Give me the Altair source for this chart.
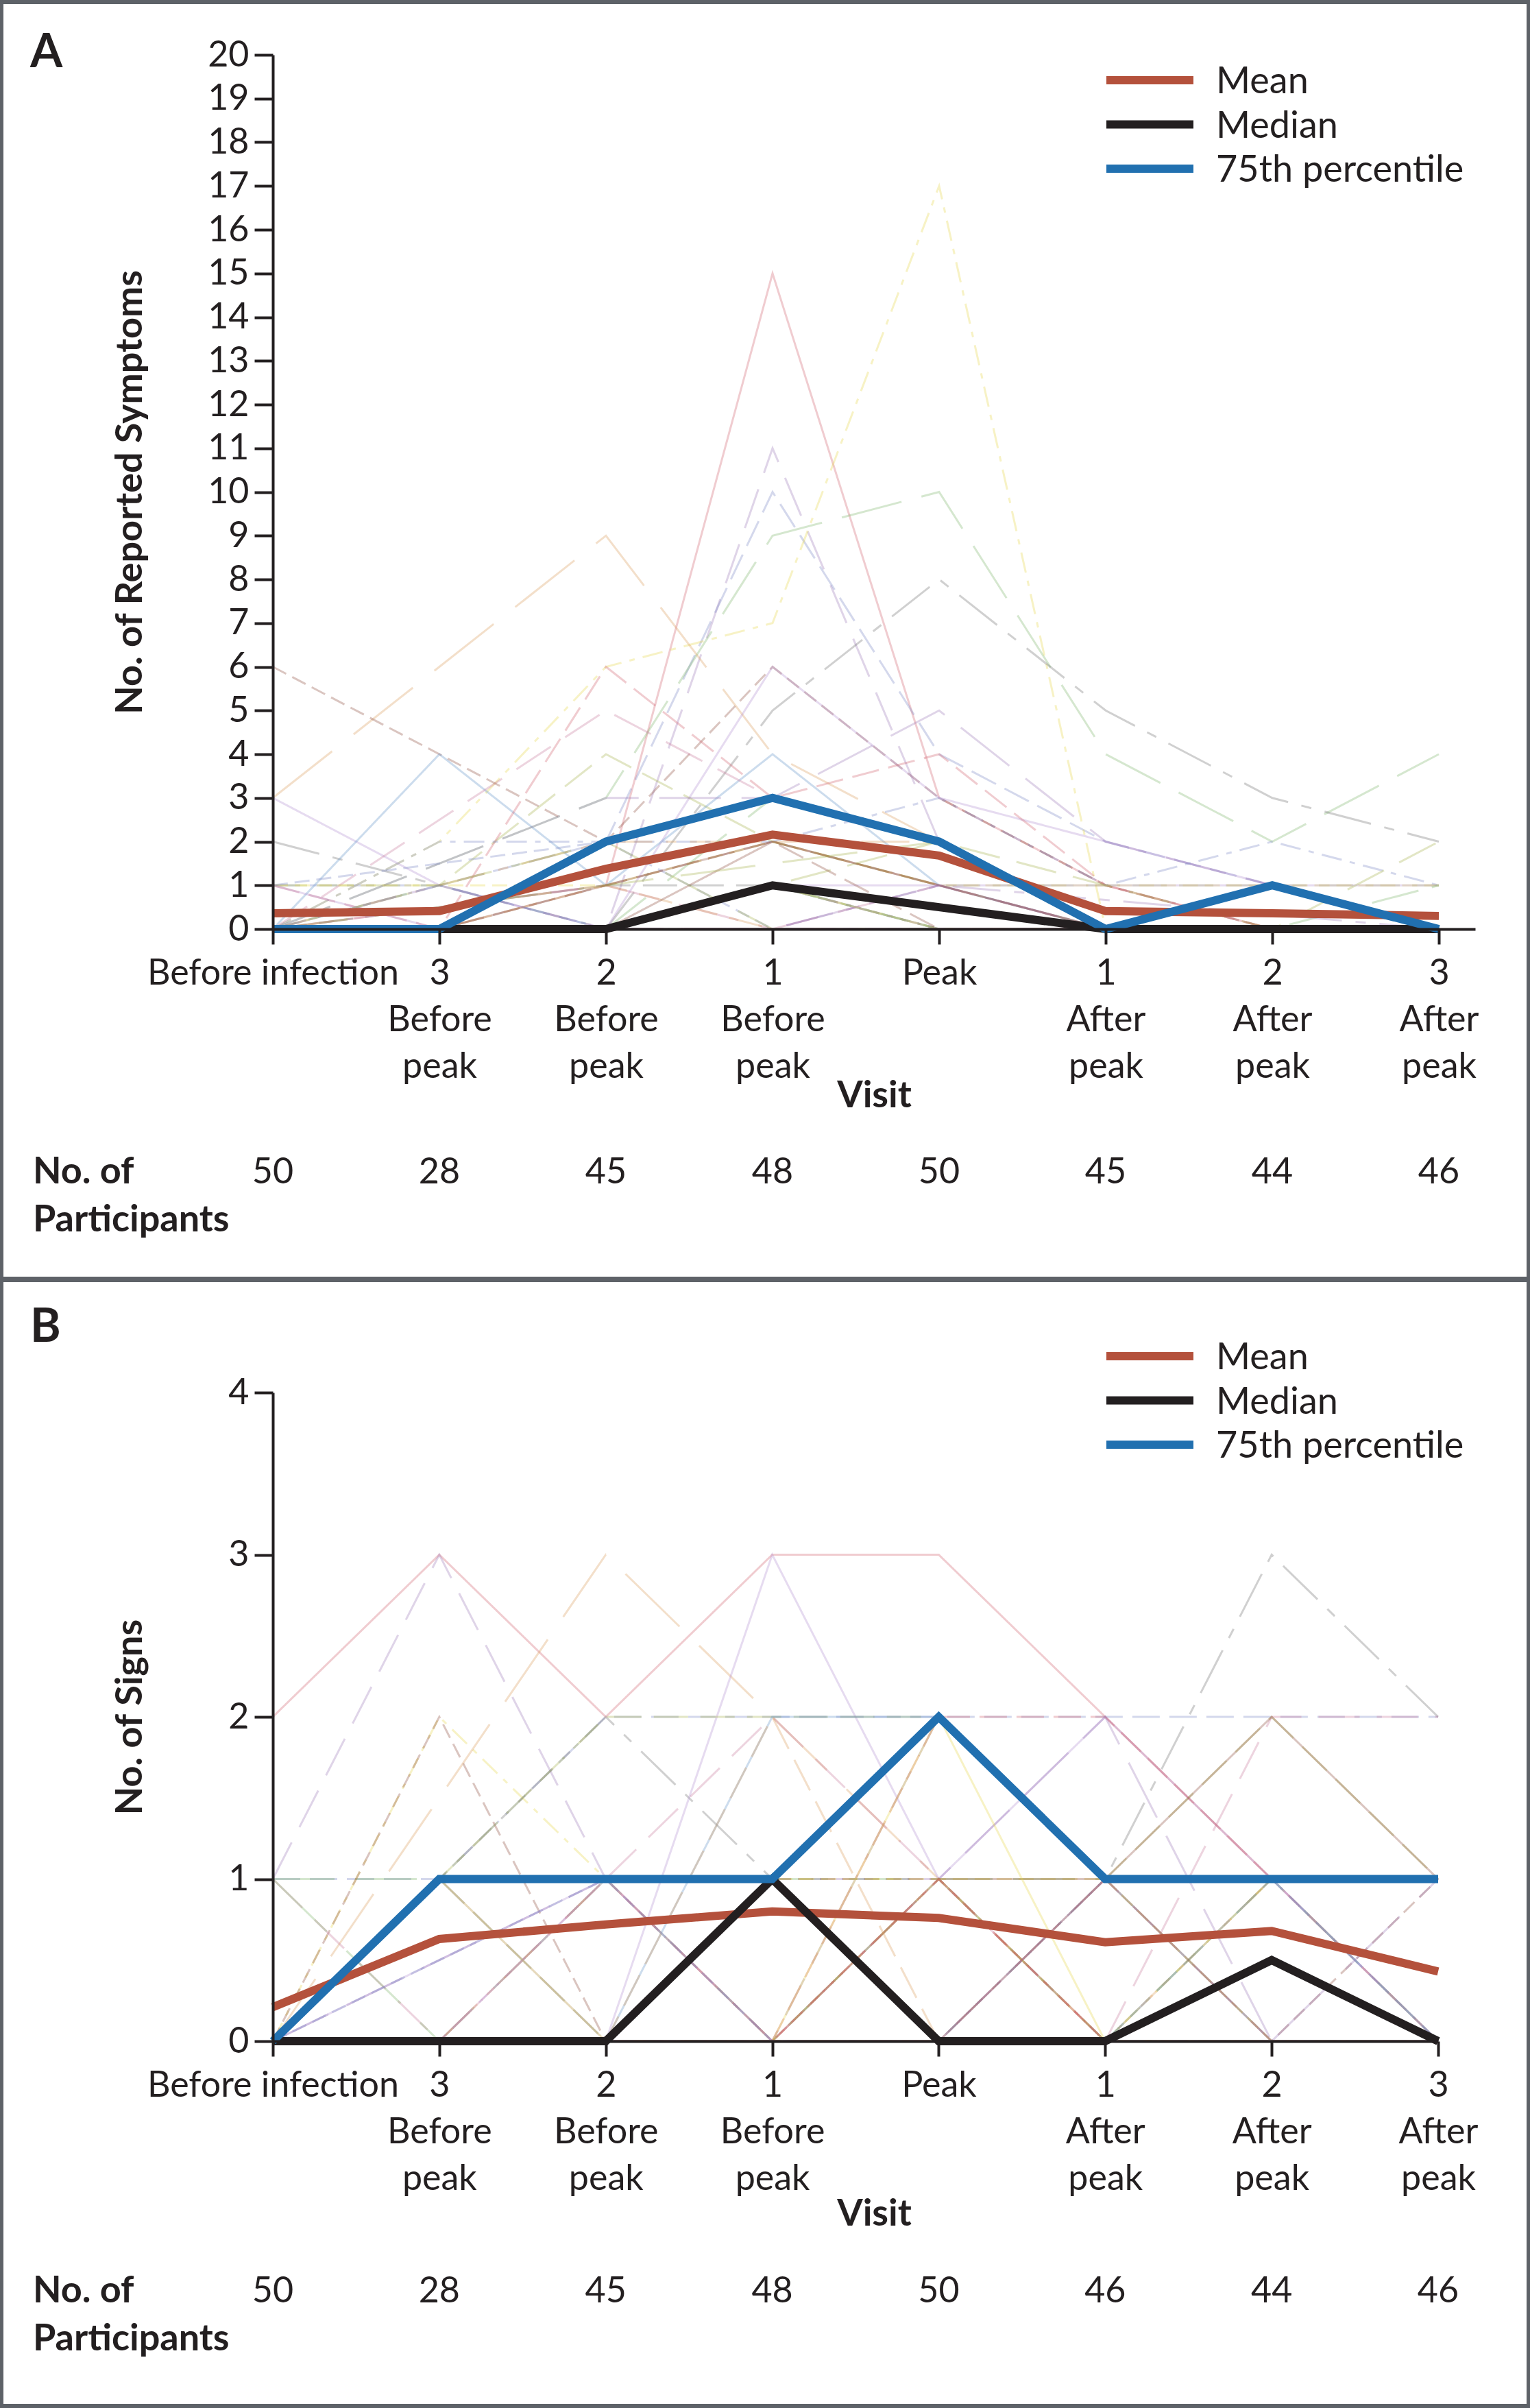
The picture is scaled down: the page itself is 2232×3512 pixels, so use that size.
import json
import altair as alt
import pandas as pd

# ---------------- data ----------------
VISIT_LINES = [["Before infection"], ["3", "Before", "peak"], ["2", "Before", "peak"],
               ["1", "Before", "peak"], ["Peak"], ["1", "After", "peak"],
               ["2", "After", "peak"], ["3", "After", "peak"]]
VISITS = list(range(8))

A_MEAN = [0.36, 0.41, 1.38, 2.16, 1.68, 0.41, 0.36, 0.30]
A_MEDIAN = [0, 0, 0, 1, 0.5, 0, 0, 0]
A_P75 = [0, 0, 2, 3, 2, 0, 1, 0]
A_N = [50, 28, 45, 48, 50, 45, 44, 46]

B_MEAN = [0.21, 0.63, 0.72, 0.80, 0.76, 0.61, 0.68, 0.43]
B_MEDIAN = [0, 0, 0, 1, 0, 0, 0.5, 0]
B_P75 = [0, 1, 1, 1, 2, 1, 1, 1]
B_N = [50, 28, 45, 48, 50, 46, 44, 46]

N = None
A_PARTICIPANTS = [
    [0, N, 1, 15, 3, 1, 0, 0], [0, N, 0, 11, 2, 0, 0, 0], [1, 1, 2, 10, 4, 2, 1, 0],
    [0, N, 3, 9, 10, 4, 2, 4], [0, 2, 6, 7, 17, 0, 0, 0], [3, 6, 9, 4, 2, 0, 0, 0],
    [6, 4, 2, 6, 3, 1, 0, 0], [2, 1, 0, 5, 8, 5, 3, 2], [3, 1, 0, 6, 3, 2, 1, 0],
    [1, 1, 4, 2, 1, 1, 1, 1], [0, 4, 1, 4, 1, 0, 0, 0], [0, N, 5, 3, 2, 0, 0, 0],
    [1, 0, 6, 3, 4, 1, 0, 0], [0, N, 3, 3, 5, 2, 1, 0], [0, 2, 2, 2, 3, 1, 2, 1],
    [0, 0, 0, 3, 2, 0, 0, 0], [1, 1, 1, 2, 1, 1, 1, 1], [0, N, 2, 2, 2, 0, 0, 0],
    [0, 0, 1, 2, 1, 0, 1, 0], [0, N, 1, 1, 0, 0, 0, 0], [1, 0, 0, 1, 1, 1, 1, 1],
    [0, N, 0, 1, 2, 1, 0, 2], [0, 1, 0, 1, 0, 0, 0, 0], [0, N, 1, 0, 1, 0, 1, 0],
    [0, N, 0, 1, 0, 0, 0, 0], [0, 0, 0, 0, 1, 0, 0, 0], [1, N, 2, 0, 0, 0, 0, 0],
    [0, 0, 0, 1, 0, 0, 0, 1], [0, N, 0, 0, 0, 0, 0, 0], [0, 0, 1, 0, 0, 0, 0, 0],
    [0, N, 0, 2, 1, 0, 0, 0], [0, 0, 0, 0, 0, 0, 0, 0], [0, N, 0, 0, 0, N, 0, 0],
    [0, N, 2, 0, 0, 0, 0, 0], [0, 0, 0, 1, 0, 0, N, 0], [0, N, 0, 0, 0, 0, 0, N],
    [0, 0, N, 0, 0, 0, 0, 0], [0, N, 0, 0, 1, N, N, 0], [0, 0, 0, 0, 0, 0, 0, 0],
    [0, N, N, 0, 0, 0, 0, 0], [0, 0, 0, 1, 0, N, 0, N], [0, N, 0, 0, 0, 0, N, 0],
    [0, 0, N, 2, 0, 0, 0, 0], [0, N, 0, 0, 0, N, N, 0], [0, 0, 0, 0, 0, 0, 0, N],
    [0, N, N, N, 2, 0, N, 0], [0, 0, 0, 0, 0, N, 0, 0], [0, N, 0, 0, 0, 0, N, N],
    [0, 0, N, N, 0, 0, 0, 0], [0, 1, 0, 0, 0, N, N, 0],
]
B_PARTICIPANTS = [
    [2, 3, 2, 3, 3, 2, 1, 1], [1, 3, 1, 0, 2, 1, 1, 0], [1, 1, 2, 2, 2, 2, 2, 2],
    [1, 1, 1, 1, 1, 1, 1, 1], [0, 2, 1, 1, 0, 0, 1, 1], [0, N, 3, 2, 1, 0, 1, 0],
    [0, 2, 0, 1, 1, 0, 0, 1], [0, N, 2, 1, 0, 1, 3, 2], [0, 1, 0, 3, 1, 2, 1, 0],
    [0, 1, 2, 2, 2, 1, 2, 1], [0, N, 0, 2, 2, 1, 0, 0], [1, 0, 1, 2, 1, 0, 2, 2],
    [0, 1, 1, 0, 2, 2, 1, 0], [0, N, 1, 1, 1, 2, 0, 0], [0, 0, 0, 1, 0, 1, 1, 1],
    [1, 0, 1, 0, 1, 0, 1, 0], [0, N, 0, 1, 1, 1, 0, 0], [0, 0, 1, 0, 1, 0, 1, 1],
    [0, N, 0, 0, 1, 1, 2, 1], [0, 1, 0, 1, 0, 0, 0, 0], [0, N, 1, 0, 0, 1, 1, 0],
    [0, 0, 0, 0, 1, 0, 0, 0], [0, N, 0, 1, 0, 0, 1, 0], [0, 0, 1, 0, 0, 1, 0, 0],
    [0, N, 0, 0, 1, 0, 0, 0], [0, 0, 0, 1, 0, 0, 0, 1], [0, N, 1, 0, 0, 0, 0, 0],
    [0, 0, 0, 0, 0, 0, 0, 0], [0, 1, 0, 0, 2, 0, 0, 0], [0, N, 0, 2, 0, 0, 0, 0],
    [0, 0, 0, 0, 0, 1, 0, 0], [0, N, 0, 0, 0, 0, N, 0], [0, 0, 1, 1, 0, 0, 0, 0],
    [0, N, 0, 0, 0, 0, 0, 0], [0, 0, 0, 0, 0, N, 0, 0], [0, N, N, 0, 0, 0, 0, N],
    [0, 0, 0, 0, 1, 0, N, 0], [0, N, 0, 0, 0, 0, 0, 0], [0, 0, N, 0, 0, 0, 0, 0],
    [0, N, 0, N, 0, 0, N, 0], [0, 0, 0, 0, 0, 0, 0, N], [0, N, N, 0, 0, N, 0, 0],
    [0, 0, 0, 0, 0, 0, N, 0], [0, N, 0, 0, 0, 0, 0, N], [0, 0, N, 0, 0, N, 0, 0],
    [0, N, 0, 0, 0, 0, N, 0], [0, 0, 0, N, 0, 0, 0, 0], [0, N, N, 0, 0, N, N, N],
    [0, N, 0, 0, 0, 0, 0, 0], [0, N, 0, 0, 0, 0, 0, 0],
]

STATS = ["Mean", "Median", "75th percentile"]

# ---------------- styles ----------------
FONT = "Lato"
INK = "#231f20"
FRAME = "#5e6268"
STAT_COLORS = {"Mean": "#b4513c", "Median": "#231f20", "75th percentile": "#2170b0"}
PALETTE = ["#d0606e", "#9a78b8", "#7886c4", "#7cb36a", "#e6d84a", "#d99a5a",
           "#8b4a3c", "#6c6c6c", "#b090d0", "#a6b04a", "#5f93c6", "#c77a9a"]
DASHES = [[1, 0], [60, 25], [40, 14], [90, 30], [30, 12, 8, 12], [110, 40],
          [22, 10], [70, 20, 15, 20], [1, 0], [50, 18]]

LABEL_EXPR = json.dumps(VISIT_LINES) + "[datum.value]"
PAGE_W = 2232
ORIGIN_X = 398


def participants_frame(parts):
    rows = []
    for i, series in enumerate(parts):
        for v, val in zip(VISITS, series):
            if val is not None:
                rows.append({"pid": f"p{i:02d}", "v": v, "y": val})
    return pd.DataFrame(rows)


def make_panel(letter, parts, mean, median, p75, counts, ymax, ytitle,
               width, height, xmax, top, bottom, lay):
    one = pd.DataFrame({"k": [0]})
    xaxis = alt.Axis(values=VISITS, labelExpr=LABEL_EXPR, labelOverlap=False,
                     labelFlush=False, labelBound=False, labelLimit=1000,
                     labelFontSize=52, labelLineHeight=68, labelBaseline="top",
                     labelPadding=17, labelColor=INK, labelFont=FONT,
                     tickSize=22, tickWidth=4, tickColor=INK, domainColor=INK,
                     domainWidth=4, grid=False, title="Visit", titleFont=FONT,
                     titleFontSize=54, titleFontWeight="bold", titleColor=INK,
                     titleX=877, titleY=lay["visit_y"], titleBaseline="alphabetic",
                     titleAlign="center", zindex=1)
    yaxis = alt.Axis(values=list(range(ymax + 1)), labelFontSize=52,
                     labelPadding=8, labelColor=INK, labelFont=FONT,
                     tickSize=27, tickWidth=4, tickColor=INK, domainColor=INK,
                     domainWidth=4, grid=False, title=ytitle, titleFont=FONT,
                     titleFontSize=54, titleFontWeight="bold", titleColor=INK,
                     titleX=-192, titleY=height / 2, titleBaseline="alphabetic",
                     titleAlign="center", titleAngle=270, zindex=1)
    X = alt.X("v:Q", scale=alt.Scale(domain=[0, xmax], nice=False, zero=False), axis=xaxis)
    Y = alt.Y("y:Q", scale=alt.Scale(domain=[0, ymax], nice=False), axis=yaxis)

    # frame
    gray = alt.Chart(one).mark_rect(color=FRAME).encode(
        x=alt.value(-ORIGIN_X), x2=alt.value(PAGE_W - ORIGIN_X),
        y=alt.value(top), y2=alt.value(bottom))
    white = alt.Chart(one).mark_rect(color="white").encode(
        x=alt.value(-ORIGIN_X + 5), x2=alt.value(PAGE_W - ORIGIN_X - 5),
        y=alt.value(top + lay["inset_top"]), y2=alt.value(bottom - lay["inset_bottom"]))

    indiv = alt.Chart(participants_frame(parts)).mark_line(
        strokeWidth=3, opacity=0.32).encode(
        x=X, y=Y,
        color=alt.Color("pid:N", scale=alt.Scale(range=PALETTE), legend=None),
        strokeDash=alt.StrokeDash("pid:N", scale=alt.Scale(range=DASHES), legend=None),
        detail="pid:N", order="v:Q")

    stat_layers = []
    for name, vals in zip(STATS, [mean, median, p75]):
        df = pd.DataFrame({"v": VISITS, "y": vals})
        stat_layers.append(alt.Chart(df).mark_line(
            color=STAT_COLORS[name], strokeWidth=12, strokeJoin="miter").encode(x=X, y=Y))

    count_df = pd.DataFrame({"v": VISITS, "n": counts})
    count_text = alt.Chart(count_df).mark_text(
        font=FONT, fontSize=52, color=INK, baseline="alphabetic", align="center").encode(
        x=X, y=alt.value(lay["count_y"]), text="n:Q")

    part_label = alt.Chart(one).mark_text(
        text=["No. of", "Participants"], font=FONT, fontSize=54, fontWeight="bold",
        color=INK, align="left", baseline="alphabetic", lineHeight=70).encode(
        x=alt.value(-350), y=alt.value(lay["count_y"]))

    letter_label = alt.Chart(one).mark_text(
        text=letter, font=FONT, fontSize=68, fontWeight="bold", color=INK,
        align="left", baseline="alphabetic").encode(
        x=alt.value(-354), y=alt.value(lay["letter_y"]))

    main = alt.layer(gray, white, indiv, *stat_layers, count_text, part_label, letter_label)

    leg_df = pd.DataFrame({"stat": STATS, "row": [0, 1, 2]})
    leg_y = alt.Y("row:Q", scale=alt.Scale(domain=[0, 2], range=lay["legend_rows"]), axis=None)
    leg_color = alt.Color("stat:N", scale=alt.Scale(domain=STATS,
                          range=[STAT_COLORS[s] for s in STATS]), legend=None)
    leg_rule = alt.Chart(leg_df).mark_rule(strokeWidth=12, strokeCap="butt").encode(
        x=alt.value(1216), x2=alt.value(1343), y=leg_y, color=leg_color)
    leg_text = alt.Chart(leg_df).mark_text(
        font=FONT, fontSize=54, color=INK, align="left", baseline="alphabetic", dy=19).encode(
        x=alt.value(1376), y=leg_y, text="stat:N")
    legend = alt.layer(leg_rule, leg_text)

    return alt.layer(main, legend).resolve_scale(y="independent", color="independent").properties(
        width=width, height=height)


panel_a = make_panel("A", A_PARTICIPANTS, A_MEAN, A_MEDIAN, A_P75, A_N, 20,
                     "No. of Reported Symptoms", 1754, 1275, 7.218, -80, 1786,
                     {"visit_y": 259, "count_y": 1726 - 80, "letter_y": 18,
                      "legend_rows": [37, 166], "inset_top": 6, "inset_bottom": 4})
panel_b = make_panel("B", B_PARTICIPANTS, B_MEAN, B_MEDIAN, B_P75, B_N, 4,
                     "No. of Signs", 1700, 946, 7, -165, 1481,
                     {"visit_y": 268, "count_y": 3358 - 2031, "letter_y": -74,
                      "legend_rows": [-53, 76], "inset_top": 4, "inset_bottom": 6})

chart = alt.vconcat(panel_a, panel_b, spacing=0).properties(
    padding=0, background="white").configure_view(stroke=None)

chart.save("out.html", embed_options={"renderer": "svg", "actions": False})
